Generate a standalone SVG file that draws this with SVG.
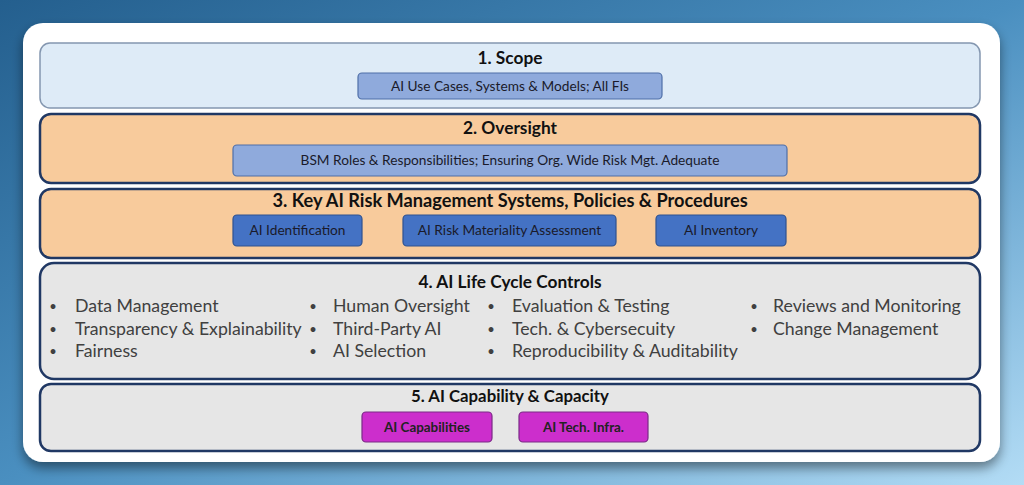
<svg xmlns="http://www.w3.org/2000/svg" width="1024" height="485" viewBox="0 0 1024 485">
<defs>
<linearGradient id="bg" x1="0" y1="0" x2="1" y2="1">
<stop offset="0" stop-color="#245f8e"/>
<stop offset="0.5" stop-color="#4a8fc0"/>
<stop offset="1" stop-color="#b3dcf5"/>
</linearGradient>
<filter id="sh" x="-5%" y="-5%" width="110%" height="120%">
<feGaussianBlur in="SourceAlpha" stdDeviation="6"/>
<feOffset dx="0" dy="6" result="b"/>
<feComponentTransfer><feFuncA type="linear" slope="0.45"/></feComponentTransfer>
<feMerge><feMergeNode/><feMergeNode in="SourceGraphic"/></feMerge>
</filter>
<style>
text{font-family:Lato,"Open Sans","Liberation Sans",sans-serif;}
.title{font-size:17.3px;font-weight:bold;fill:#111;text-anchor:middle;}
.lbl{font-size:13.7px;fill:#1a1a2a;text-anchor:middle;}
.lbl5{font-size:13.4px;font-weight:bold;fill:#222;text-anchor:middle;}
.bul{font-size:17.7px;fill:#404040;}
.dot{font-size:13px;fill:#404040;text-anchor:middle;}
.panel{stroke:#203864;stroke-width:2.5;}
.sub1{fill:#8faadc;stroke:#4f6fa8;stroke-width:1.2;}
.sub3{fill:#4472c4;stroke:#2f528f;stroke-width:1.2;}
.sub5{fill:#cc2ecc;stroke:#7a2a86;stroke-width:1.2;}
</style>
</defs>
<rect x="0" y="0" width="1024" height="485" fill="url(#bg)"/>
<rect x="23" y="23" width="977" height="439" rx="20" fill="#ffffff" filter="url(#sh)"/>

<g id="scope">
<rect x="40" y="43" width="940" height="65" rx="10" fill="#deebf7" stroke="#8497b0" stroke-width="1.5"/>
<text class="title" x="510" y="64">1. Scope</text>
<rect class="sub1" x="358" y="73" width="304" height="26" rx="4"/>
<text class="lbl" x="510" y="90.5">AI Use Cases, Systems &amp; Models; All FIs</text>
</g>

<g id="oversight">
<rect class="panel" x="40" y="114" width="940" height="69" rx="11" fill="#f8cb9c"/>
<text class="title" x="510" y="134">2. Oversight</text>
<rect class="sub1" x="233" y="145" width="554" height="31" rx="4"/>
<text class="lbl" x="510" y="165">BSM Roles &amp; Responsibilities; Ensuring Org. Wide Risk Mgt. Adequate</text>
</g>

<g id="key-systems">
<rect class="panel" x="40" y="189" width="940" height="69" rx="11" fill="#f8cb9c"/>
<text class="title" x="510" y="207" style="font-size:18.2px">3. Key AI Risk Management Systems, Policies &amp; Procedures</text>
<g id="ai-identification">
<rect class="sub3" x="233" y="215" width="129" height="31" rx="4"/>
<text class="lbl" x="297.5" y="235">AI Identification</text>
</g>
<g id="ai-risk-materiality">
<rect class="sub3" x="403" y="215" width="213" height="31" rx="4"/>
<text class="lbl" x="509.5" y="235">AI Risk Materiality Assessment</text>
</g>
<g id="ai-inventory">
<rect class="sub3" x="656" y="215" width="130" height="31" rx="4"/>
<text class="lbl" x="721" y="235">AI Inventory</text>
</g>
</g>

<g id="lifecycle">
<rect class="panel" x="40" y="263" width="940" height="116" rx="14" fill="#e6e6e6"/>
<text class="title" x="510" y="288">4. AI Life Cycle Controls</text>
<g class="dot">
<text x="53" y="311">•</text><text x="53" y="334">•</text><text x="53" y="356">•</text>
<text x="313" y="311">•</text><text x="313" y="334">•</text><text x="313" y="356">•</text>
<text x="491" y="311">•</text><text x="491" y="334">•</text><text x="491" y="356">•</text>
<text x="754" y="311">•</text><text x="754" y="334">•</text>
</g>
<g class="bul">
<text x="75" y="312">Data Management</text>
<text x="75" y="335">Transparency &amp; Explainability</text>
<text x="75" y="357">Fairness</text>
<text x="333" y="312">Human Oversight</text>
<text x="333" y="335">Third-Party AI</text>
<text x="333" y="357">AI Selection</text>
<text x="512" y="312">Evaluation &amp; Testing</text>
<text x="512" y="335">Tech. &amp; Cybersecuity</text>
<text x="512" y="357">Reproducibility &amp; Auditability</text>
<text x="773" y="312">Reviews and Monitoring</text>
<text x="773" y="335">Change Management</text>
</g>
</g>

<g id="capability">
<rect class="panel" x="40" y="384" width="940" height="67" rx="11" fill="#e6e6e6"/>
<text class="title" x="510" y="402" style="font-size:16.8px">5. AI Capability &amp; Capacity</text>
<g id="ai-capabilities">
<rect class="sub5" x="362" y="412" width="130" height="30" rx="4"/>
<text class="lbl5" x="427" y="432">AI Capabilities</text>
</g>
<g id="ai-tech-infra">
<rect class="sub5" x="519" y="412" width="129" height="30" rx="4"/>
<text class="lbl5" x="583.5" y="432">AI Tech. Infra.</text>
</g>
</g>
</svg>
